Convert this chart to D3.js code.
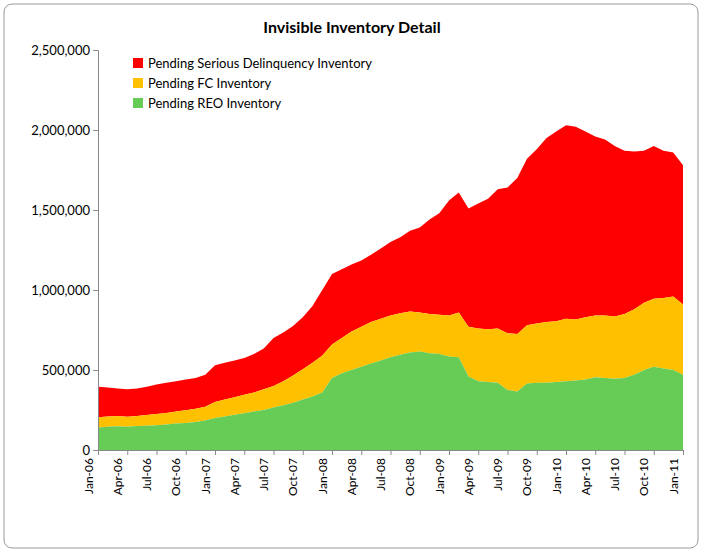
<!DOCTYPE html>
<html><head><meta charset="utf-8">
<script src="https://cdn.jsdelivr.net/npm/d3@7"></script>
<style>body{margin:0;background:#fff}text{font-family:Lato,"Noto Sans",sans-serif}</style>
</head><body>
<svg id="c" width="704" height="554"></svg>
<script>
// stack levels, in thousands, monthly Jan-06 .. Jan-11
var reoTop = [140,145,148,145,150,152,155,160,165,168,175,185,
  200,210,220,230,240,250,265,280,295,315,335,360,
  450,480,500,520,540,560,580,595,610,615,605,600,
  585,580,460,430,425,420,375,365,415,420,420,425,
  430,435,440,455,450,445,450,470,500,520,510,500,
  470];
var fcTop = [205,210,212,208,212,218,225,232,240,248,258,270,
  300,315,330,345,360,380,400,430,465,505,545,590,
  660,700,740,770,800,820,840,855,865,860,850,845,
  840,860,770,760,755,760,730,725,780,790,800,805,
  820,815,830,840,840,835,850,880,920,945,950,960,
  910];
var sdqTop = [395,390,385,380,385,395,410,420,430,440,450,470,
  530,545,560,575,600,635,700,735,775,830,900,1000,
  1100,1130,1160,1185,1220,1260,1300,1330,1370,1390,1440,1480,
  1560,1610,1510,1540,1570,1630,1640,1700,1820,1880,1950,1990,
  2030,2020,1990,1960,1940,1900,1870,1865,1870,1900,1870,1860,
  1780];
var monthNames = ["Jan","Feb","Mar","Apr","May","Jun","Jul","Aug","Sep","Oct","Nov","Dec"];
var seriesNames = ["Pending Serious Delinquency Inventory","Pending FC Inventory","Pending REO Inventory"];
var colors = ["#ff0000","#ffc000","#66cc55"];
var yTicks = [0,500000,1000000,1500000,2000000,2500000];

var svg = d3.select("#c");
svg.append("rect").attr("x",4).attr("y",4).attr("width",694).attr("height",544)
  .attr("rx",8).attr("fill","#fff").attr("stroke","#999");

var x = d3.scaleLinear().domain([0,60]).range([98,683]);
var y = d3.scaleLinear().domain([0,2500000]).range([450,50]);
var idx = d3.range(61);

var levels = [[fcTop,sdqTop],[reoTop,fcTop],[null,reoTop]];
levels.forEach(function(l,i){
  var area = d3.area().x(function(d){return x(d);})
    .y0(function(d){return l[0] ? y(l[0][d]*1000) : y(0);})
    .y1(function(d){return y(l[1][d]*1000);});
  svg.append("path").datum(idx).attr("d",area).attr("fill",colors[i]);
});

var ya = svg.append("g").attr("transform","translate(98,0)")
  .call(d3.axisLeft(y).tickValues(yTicks).tickFormat(d3.format(",")).tickSize(5));
ya.selectAll("text").style("font-size","13px").attr("fill","#000");
ya.selectAll("line,path").attr("stroke","#888");

var xa = svg.append("g").attr("transform","translate(0,450)")
  .call(d3.axisBottom(x).tickValues(d3.range(0,61,3))
    .tickFormat(function(d){return monthNames[d%12]+"-"+("0"+(6+Math.floor(d/12))).slice(-2);}).tickSize(5));
xa.selectAll("text").style("font-size","12px").attr("fill","#000")
  .attr("transform","rotate(-90)").attr("text-anchor","end").attr("dx","-8").attr("dy","-0.5em").attr("x",0).attr("y",0);
xa.selectAll("line,path").attr("stroke","#888");

svg.append("text").attr("x",352).attr("y",33).attr("text-anchor","middle")
  .style("font-size","16px").style("font-weight","bold").text("Invisible Inventory Detail");

seriesNames.forEach(function(n,i){
  svg.append("rect").attr("x",133).attr("y",58+i*20).attr("width",10).attr("height",10).attr("fill",colors[i]);
  svg.append("text").attr("x",148).attr("y",68+i*20).style("font-size","13px").text(n);
});
</script>
</body></html>
